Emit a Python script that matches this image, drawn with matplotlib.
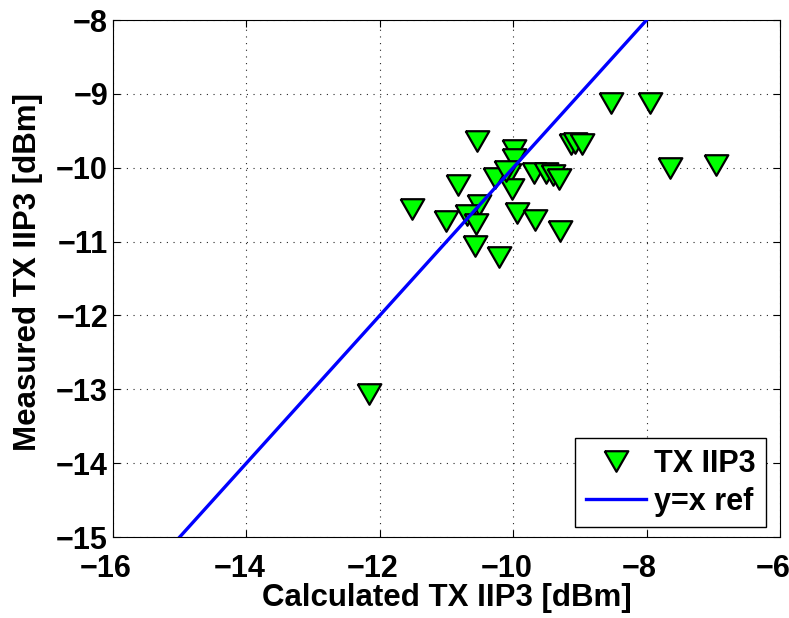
import matplotlib
matplotlib.use("Agg")
import matplotlib.pyplot as plt
import matplotlib.transforms as mtransforms

plt.rcParams['font.family'] = ['Liberation Sans', 'DejaVu Sans']
plt.rcParams['font.weight'] = 'bold'

calc_x = [-8.53, -7.95, -10.55, -9.99, -9.99, -10.07, -10.28, -9.69, -9.51, -9.41,
          -9.31, -10.02, -10.83, -9.13, -9.08, -8.97, -10.51, -10.70, -10.56, -9.95,
          -9.67, -11.00, -11.51, -9.30, -10.57, -10.21, -7.65, -6.96, -12.16, -10.11]
meas_y = [-9.12, -9.13, -9.64, -9.755, -9.88, -10.09, -10.14, -10.07, -10.07, -10.10,
          -10.15, -10.29, -10.23, -9.68, -9.66, -9.68, -10.51, -10.64, -10.76, -10.61,
          -10.71, -10.72, -10.56, -10.86, -11.06, -11.21, -10.01, -9.96, -13.06, -10.05]
ref_x = [-16, -6]
ref_y = [-16, -6]

xticks = [-16, -14, -12, -10, -8, -6]
yticks = [-15, -14, -13, -12, -11, -10, -9, -8]

fig = plt.figure(figsize=(7.89, 6.18), dpi=100)
ax = fig.add_axes([0.1432, 0.131, 0.8454, 0.8366])

tri = [(-1.15, 1.0), (1.15, 1.0), (0.0, -1.0), (-1.15, 1.0)]
ax.plot(calc_x, meas_y, linestyle='none', marker=tri, markersize=17,
        markerfacecolor=(0, 1, 0), markeredgecolor='black', markeredgewidth=1.6,
        label='TX IIP3', zorder=3)
ax.plot(ref_x, ref_y, color=(0, 0, 1), linewidth=2.4, label='y=x ref', zorder=4)

ax.set_xlim(-16, -6)
ax.set_ylim(-15, -8)
ax.set_xticks(xticks)
ax.set_yticks(yticks)
ax.tick_params(direction='in', labelsize=22, length=5, width=0.8, top=True, right=True)
ax.tick_params(axis='x', pad=12)
ax.tick_params(axis='y', pad=3.5)
offset = mtransforms.ScaledTranslation(-0.07, 0, fig.dpi_scale_trans)
for lab in ax.get_xticklabels():
    lab.set_transform(lab.get_transform() + offset)
for lab in ax.get_xticklabels() + ax.get_yticklabels():
    lab.set_fontweight('bold')
ax.grid(True, linestyle=(0, (1, 5)), color='black', linewidth=0.8, alpha=0.85)
for s in ax.spines.values():
    s.set_linewidth(0.8)

ax.set_xlabel('Calculated TX IIP3 [dBm]', fontsize=22.5, fontweight='bold')
ax.set_ylabel('Measured TX IIP3 [dBm]', fontsize=22.5, fontweight='bold')
ax.xaxis.set_label_coords(0.5, -0.089)
ax.yaxis.set_label_coords(-0.105, 0.513)

leg = ax.legend(loc='lower right', bbox_to_anchor=(0.979, 0.019), borderaxespad=0,
                fancybox=False, framealpha=1, edgecolor='black',
                handlelength=1.96, handletextpad=0.26, labelspacing=0.24,
                borderpad=0.35, prop={'weight': 'bold', 'size': 22})
leg.get_frame().set_linewidth(1.0)

fig.savefig('out.png', dpi=100)
